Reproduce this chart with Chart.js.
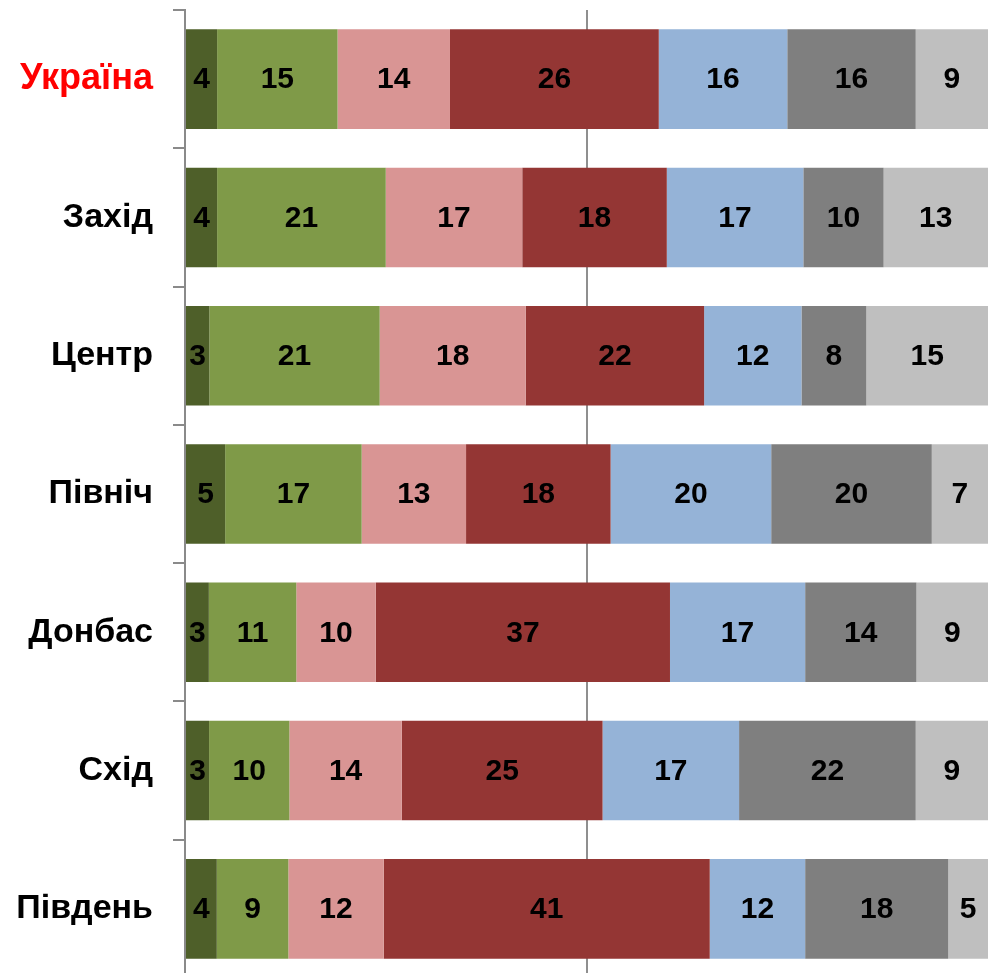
<!DOCTYPE html>
<html>
<head>
<meta charset="utf-8">
<script src="https://cdn.jsdelivr.net/npm/chart.js@4"></script>
<style>
  html, body { margin: 0; padding: 0; background: #fff; overflow: hidden; }
  #wrap { width: 988px; height: 990px; }
</style>
</head>
<body>
<div id="wrap"><canvas id="chart"></canvas></div>
<script>
// categories (regions)
const regions = ['Україна', 'Захід', 'Центр', 'Північ', 'Донбас', 'Схід', 'Південь'];

// answer groups, values per region (%, as printed on the bars)
const s1 = [4, 4, 3, 5, 3, 3, 4];
const s2 = [15, 21, 21, 17, 11, 10, 9];
const s3 = [14, 17, 18, 13, 10, 14, 12];
const s4 = [26, 18, 22, 18, 37, 25, 41];
const s5 = [16, 17, 12, 20, 17, 17, 12];
const s6 = [16, 10, 8, 20, 14, 22, 18];
const s7 = [9, 13, 15, 7, 9, 9, 5];

const series = [s1, s2, s3, s4, s5, s6, s7];
const colors = ['#4E5F29', '#7F9A48', '#D99594', '#943634', '#95B3D7', '#7F7F7F', '#BFBFBF'];

// 100% stacked: each row scaled to its own total
const totals = regions.map((r, i) => series.reduce((a, s) => a + s[i], 0));

const datasets = series.map((s, k) => ({
    label: 's' + (k + 1),
    data: s.map((v, i) => v / totals[i] * 100),
    raw: s,
    backgroundColor: colors[k],
    borderWidth: 0,
    categoryPercentage: 1,
    barPercentage: 0.72
}));

// values in the middle of each segment
const barLabels = {
    id: 'barLabels',
    afterDatasetsDraw(chart) {
        const ctx = chart.ctx;
        ctx.save();
        ctx.font = 'bold 30px "Liberation Sans", Arial, sans-serif';
        ctx.fillStyle = '#000';
        ctx.textAlign = 'center';
        ctx.textBaseline = 'middle';
        chart.data.datasets.forEach((ds, k) => {
            chart.getDatasetMeta(k).data.forEach((bar, i) => {
                let cx = (bar.x + bar.base) / 2;
                ctx.fillText(ds.raw[i], cx, bar.y + 1);
            });
        });
        ctx.restore();
    }
};

new Chart(document.getElementById('chart'), {
    type: 'bar',
    data: { labels: regions, datasets: datasets },
    options: {
        indexAxis: 'y',
        responsive: true,
        maintainAspectRatio: false,
        animation: false,
        layout: { padding: { top: 10, bottom: 12, right: 0, left: 0 } },
        plugins: { legend: { display: false }, tooltip: { enabled: false } },
        scales: {
            x: {
                stacked: true,
                min: 0,
                max: 100,
                ticks: { display: false, stepSize: 50 },
                grid: {
                    drawTicks: false,
                    color: c => c.tick && c.tick.value === 50 ? '#8F8F8F' : 'rgba(0,0,0,0)',
                    lineWidth: 2
                },
                border: { display: false },
                afterFit(scale) { scale.height = 0; }
            },
            y: {
                stacked: true,
                grid: {
                    offset: true,
                    drawOnChartArea: false,
                    tickLength: 12,
                    color: '#8A8A8A',
                    lineWidth: 2
                },
                border: { display: true, color: '#8A8A8A', width: 2 },
                ticks: {
                    padding: 20,
                    color: c => c.index === 0 ? '#FF0000' : '#000000',
                    font: c => ({
                        family: '"Liberation Sans", Arial, sans-serif',
                        weight: 'bold',
                        size: c.index === 0 ? 36 : 34
                    })
                },
                afterFit(scale) {
                    scale.width = 185;
                    scale.paddingTop = 0;
                    scale.paddingBottom = 0;
                }
            }
        }
    },
    plugins: [barLabels]
});
</script>
</body>
</html>
